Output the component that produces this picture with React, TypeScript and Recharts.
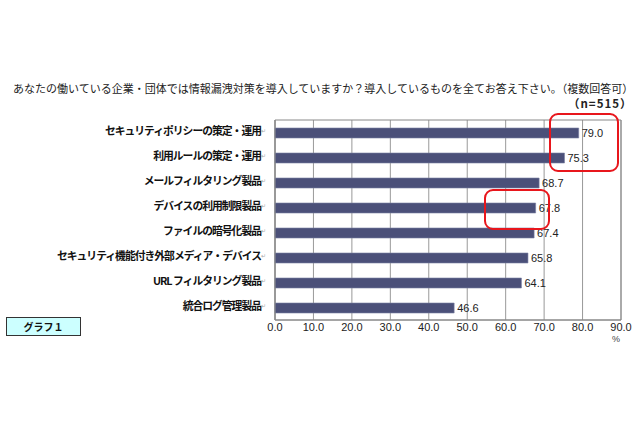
import { BarChart, Bar, XAxis, YAxis, CartesianGrid, LabelList, ReferenceArea } from 'recharts';

const categories = [
  'セキュリティポリシーの策定・運用',
  '利用ルールの策定・運用',
  'メールフィルタリング製品',
  'デバイスの利用制限製品',
  'ファイルの暗号化製品',
  'セキュリティ機能付き外部メディア・デバイス',
  'URL フィルタリング製品',
  '統合ログ管理製品',
];
const values = [79.0, 75.3, 68.7, 67.8, 67.4, 65.8, 64.1, 46.6];
const xTicks = [0, 10, 20, 30, 40, 50, 60, 70, 80, 90];

const title = 'あなたの働いている企業・団体では情報漏洩対策を導入していますか？導入しているものを全てお答え下さい。（複数回答可）';
const sampleNote = '（n=515）';
const graphTag = 'グラフ１';

const data = categories.map((name, i) => ({ name, value: values[i] }));

const JP = '"Noto Sans CJK JP", sans-serif';
const LAT = '"Liberation Sans", Arial, sans-serif';

const CategoryTick = (props: any) => {
  const { x, y, payload } = props;
  return (
    <text x={x - 1} y={y} dy={-3} textAnchor="end" dominantBaseline="central"
      fontFamily={JP} fontWeight="bold" fontSize={10.8} letterSpacing={-1} fill="#111">
      {payload.value}
      <tspan fill="#aaa" fontSize={6} fontWeight="normal" letterSpacing={0}>↵</tspan>
    </text>
  );
};

const redBox = (left: number, top: number, width: number, height: number) => (
  <div style={{
    position: 'absolute', left, top, width, height, boxSizing: 'border-box',
    border: '2px solid #e8161c', borderRadius: 9,
  }} />
);

export default function App() {
  return (
    <div style={{ position: 'absolute', left: 0, top: 0, width: 640, height: 426, background: '#fff', overflow: 'hidden' }}>
      <div style={{ position: 'absolute', left: 13, top: 80, fontFamily: JP, fontSize: 11, color: '#222', whiteSpace: 'nowrap' }}>
        {title}
      </div>
      <div style={{ position: 'absolute', left: 568, top: 95, fontFamily: JP, fontSize: 11.5, fontWeight: 'bold', letterSpacing: 1, color: '#222', whiteSpace: 'nowrap' }}>
        {sampleNote}
      </div>
      <BarChart width={640} height={426} data={data} layout="vertical"
        margin={{ top: 120, right: 19, bottom: 86, left: 0 }} barSize={10}>
        <CartesianGrid horizontal={false} stroke="#999" />
        <XAxis type="number" domain={[0, 90]} ticks={xTicks} interval={0}
          tickFormatter={(v: number) => v.toFixed(1)} tickLine={false} tickSize={0} tickMargin={3}
          axisLine={{ stroke: '#888' }} height={20}
          tick={{ fontSize: 11, fill: '#222', fontFamily: LAT }} />
        <YAxis type="category" dataKey="name" width={275} tickLine={false} axisLine={{ stroke: '#888' }}
          tick={<CategoryTick />} interval={0} />
        <ReferenceArea x1={0} x2={90} fill="none" stroke="#888" strokeWidth={1} ifOverflow="visible" />
        <Bar dataKey="value" fill="#4b5079" stroke="#7b80a3" strokeWidth={0.6} isAnimationActive={false}>
          <LabelList dataKey="value" position="right" offset={3}
            formatter={(v: any) => Number(v).toFixed(1)}
            style={{ fontSize: 11, fill: '#222', fontFamily: LAT }} />
        </Bar>
      </BarChart>
      <div style={{ position: 'absolute', left: 612, top: 334, fontSize: 9, color: '#444', fontFamily: LAT }}>%</div>
      {redBox(549, 113, 70, 59)}
      {redBox(484, 189, 66, 41)}
      <div style={{
        position: 'absolute', left: 6, top: 317, width: 75, height: 19, boxSizing: 'border-box',
        background: '#ccffff', border: '1px solid #333', fontFamily: JP, fontWeight: 'bold',
        fontSize: 10, color: '#111', textAlign: 'center', lineHeight: '17px',
      }}>
        {graphTag}
      </div>
    </div>
  );
}
